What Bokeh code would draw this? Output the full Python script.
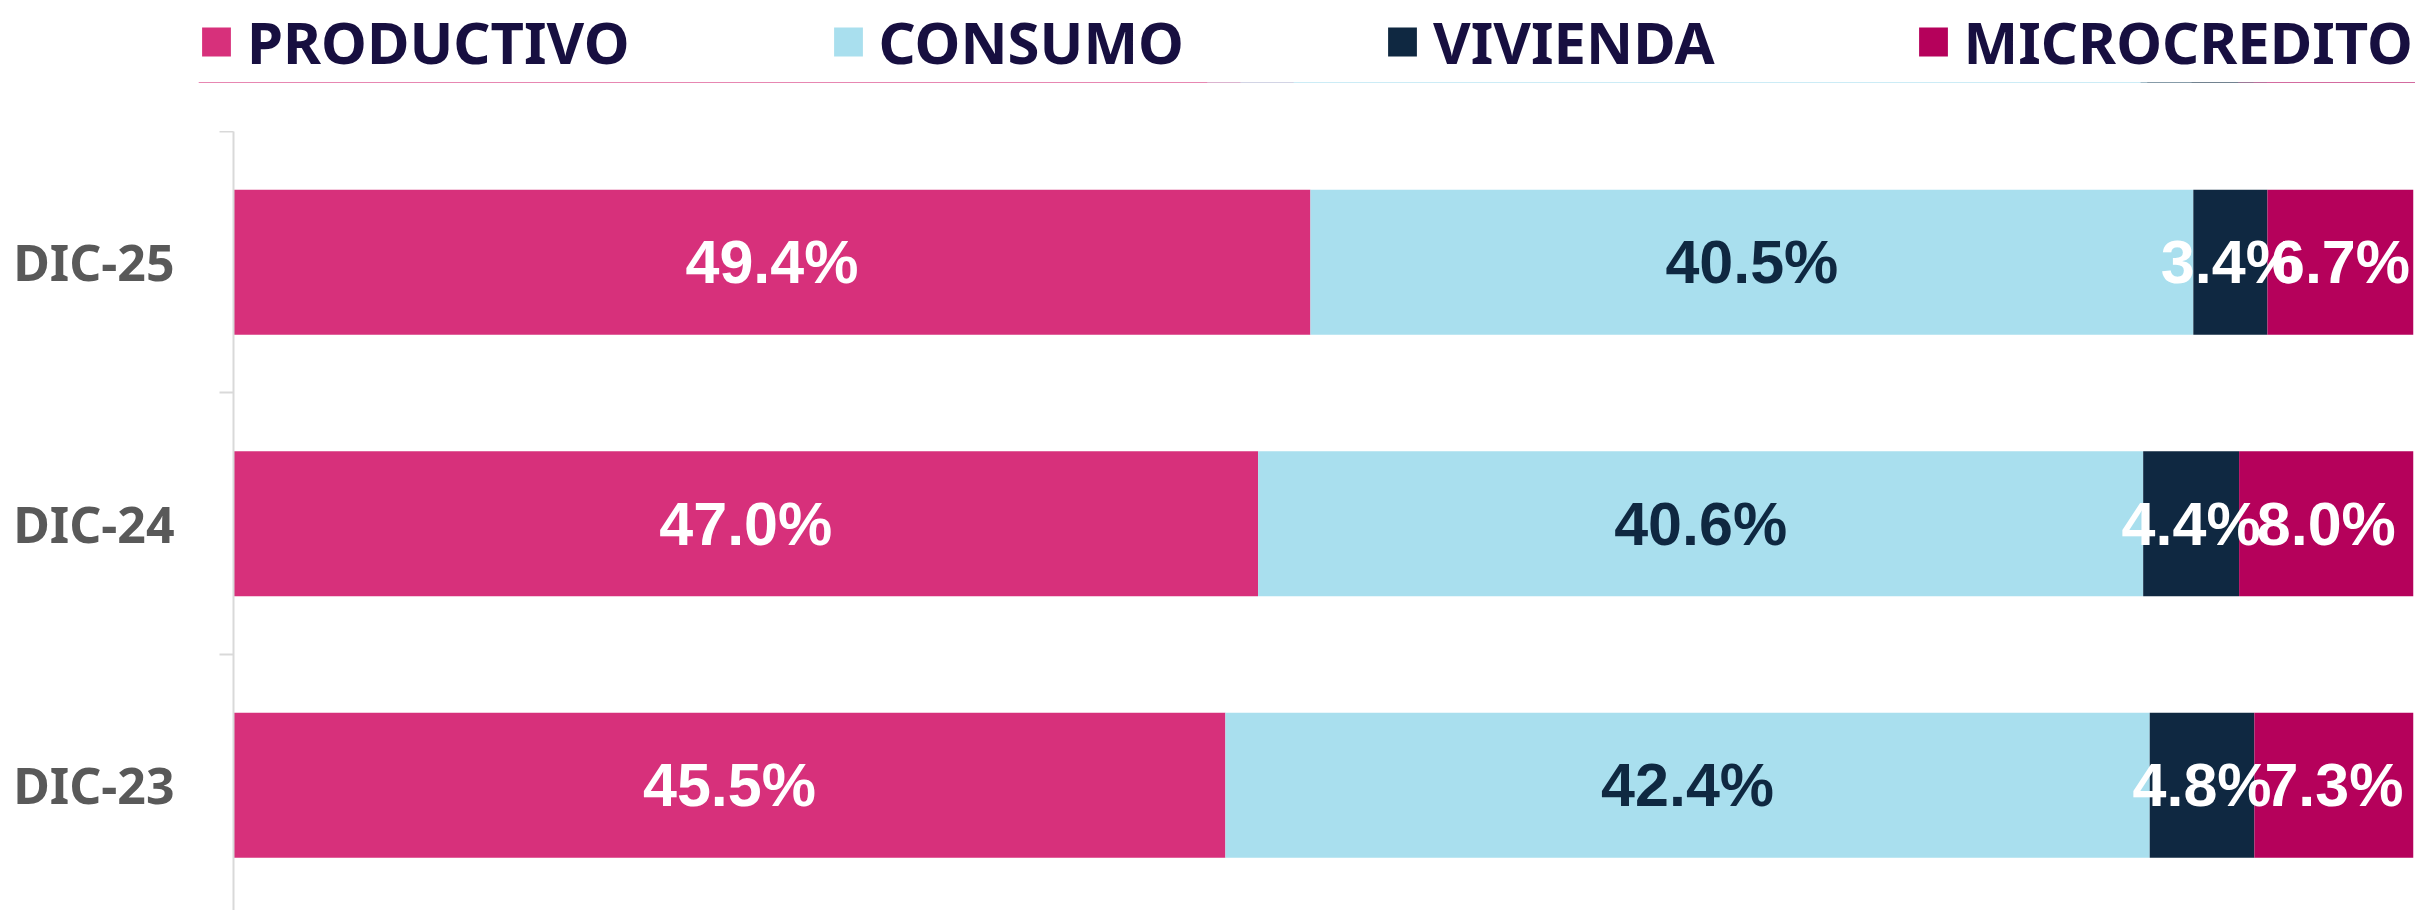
import numpy as np
from bokeh.plotting import figure
from bokeh.models import ColumnDataSource, Range1d, FixedTicker, Legend, LegendItem
from bokeh.core.properties import value
from bokeh.embed import file_html
from bokeh.resources import INLINE

# ---- data ----
categories = ["DIC-23", "DIC-24", "DIC-25"]
series = ["PRODUCTIVO", "CONSUMO", "VIVIENDA", "MICROCREDITO"]
productivo = [45.5, 47.0, 49.4]
consumo = [42.4, 40.6, 40.5]
vivienda = [4.8, 4.4, 3.4]
microcredito = [7.3, 8.0, 6.7]

colors = ["#D7307B", "#A9DFEE", "#0F2841", "#B5015B"]
label_colors = ["#FFFFFF", "#0F2841", "#FFFFFF", "#FFFFFF"]

values = [productivo, consumo, vivienda, microcredito]
ypos = list(range(len(categories)))

data = {"y": ypos}
for name, vals in zip(series, values):
    data[name] = vals
source = ColumnDataSource(data)

W = 2415
LEG_H = 131
H = 779
LEFT = 233

# ---------------- legend strip (separate root) ----------------
pl = figure(width=W, height=LEG_H, output_backend="svg", toolbar_location=None,
            x_range=Range1d(0, 100), y_range=Range1d(10, 11),
            x_axis_location=None, y_axis_location=None,
            min_border_left=198, min_border_right=0,
            min_border_top=0, min_border_bottom=LEG_H - 82)
pl.outline_line_color = None
pl.grid.visible = False
pl.border_fill_color = "white"
pl.background_fill_color = "white"
leg_renderers = pl.hbar_stack(series, y="y", height=0.555, color=colors,
                              line_color=None, source=source)
legend = Legend(items=[LegendItem(label=n, renderers=[r]) for n, r in zip(series, leg_renderers)],
                orientation="horizontal", location="center_left",
                padding=0, margin=0, spacing=200,
                glyph_width=36, glyph_height=36, label_standoff=13,
                label_text_font="Noto Sans", label_text_font_style="bold",
                label_text_font_size="58px", label_text_color="#170F40",
                border_line_color=None, background_fill_alpha=0)
pl.add_layout(legend, "center")

# ---------------- main chart ----------------
p = figure(width=W, height=H, output_backend="svg", toolbar_location=None,
           x_range=Range1d(0, 100), y_range=Range1d(-0.479, 2.5),
           min_border_left=LEFT, min_border_right=2, min_border_top=0,
           min_border_bottom=0)
p.outline_line_color = None
p.xgrid.visible = False
p.ygrid.visible = False
p.xaxis.visible = False

renderers = p.hbar_stack(series, y="y", height=0.555, color=colors,
                         line_color=None, source=source)

# value labels
vals_arr = np.array(values)
ends = np.cumsum(vals_arr, axis=0)
starts = ends - vals_arr
for i, name in enumerate(series):
    centers = (starts[i] + ends[i]) / 2
    lsrc = ColumnDataSource({"x": centers, "y": ypos,
                             "t": [f"{v:.1f}%" for v in values[i]]})
    p.text(x="x", y="y", text="t", source=lsrc, text_align="center",
           text_baseline="middle", text_color=label_colors[i],
           text_font=value("Liberation Sans"), text_font_style="bold",
           text_font_size="61px")

# y axis
ax = p.yaxis[0]
ax.ticker = FixedTicker(ticks=ypos, minor_ticks=[y - 0.5 for y in ypos] + [ypos[-1] + 0.5])
ax.major_label_overrides = {y: c for y, c in zip(ypos, categories)}
ax.major_tick_out = 0
ax.major_tick_in = 0
ax.minor_tick_out = 14
ax.minor_tick_in = 0
ax.minor_tick_line_color = "#D9D9D9"
ax.minor_tick_line_width = 2
ax.axis_line_color = "#D9D9D9"
ax.axis_line_width = 2
ax.major_label_standoff = 45
ax.major_label_text_font = "Noto Sans"
ax.major_label_text_font_style = "bold"
ax.major_label_text_font_size = "50px"
ax.major_label_text_color = "#595959"

open("out.html", "w").write(file_html([pl, p], INLINE))
